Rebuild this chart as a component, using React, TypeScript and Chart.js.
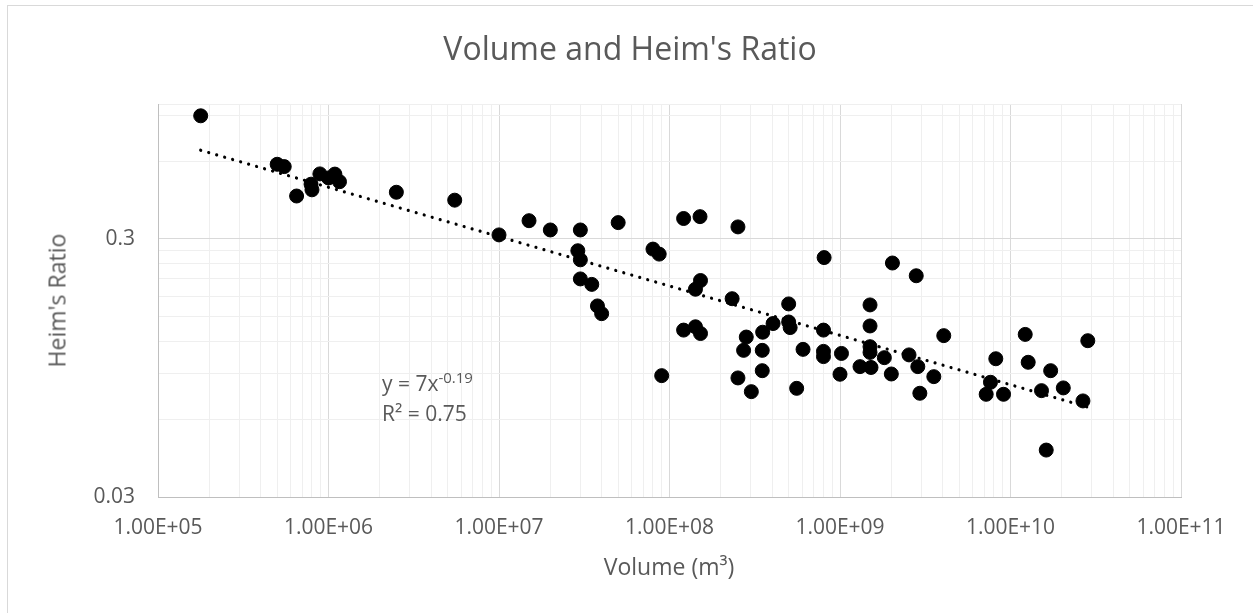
import { useEffect, useRef } from 'react';
import { Chart, registerables } from 'chart.js';

Chart.register(...registerables);

// ---- Data ----
const VOLUME_M3 = [
  1.78e5, 5.0e5, 5.5e5, 6.5e5, 7.9e5, 8.0e5, 8.9e5, 1.0e6, 1.09e6, 1.16e6,
  2.5e6, 5.5e6, 1.0e7, 1.5e7, 2.0e7, 3.0e7, 2.9e7, 3.0e7, 3.0e7, 3.5e7,
  3.78e7, 4.0e7, 5.0e7, 8.0e7, 8.7e7, 9.0e7, 1.21e8, 1.51e8, 2.52e8, 1.52e8,
  1.42e8, 1.21e8, 1.42e8, 1.52e8, 2.33e8, 2.82e8, 2.72e8, 2.52e8, 3.02e8, 3.52e8,
  3.5e8, 3.5e8, 4.05e8, 5.0e8, 5.0e8, 5.1e8, 6.07e8, 5.57e8, 8.07e8, 8.0e8,
  8.0e8, 8.0e8, 1.02e9, 1.0e9, 1.31e9, 1.52e9, 1.5e9, 1.5e9, 1.5e9, 1.5e9,
  1.82e9, 2.03e9, 2.0e9, 2.54e9, 2.8e9, 2.86e9, 2.94e9, 3.55e9, 4.06e9, 7.2e9,
  7.63e9, 8.2e9, 9.1e9, 1.22e10, 1.27e10, 1.52e10, 1.62e10, 1.72e10, 2.04e10, 2.66e10,
  2.84e10,
];
const HEIM_RATIO = [
  0.9, 0.584, 0.572, 0.44, 0.489, 0.465, 0.536, 0.517, 0.535, 0.5,
  0.455, 0.424, 0.311, 0.353, 0.325, 0.325, 0.27, 0.249, 0.21, 0.2,
  0.165, 0.154, 0.347, 0.274, 0.262, 0.0886, 0.36, 0.366, 0.334, 0.207,
  0.1915, 0.133, 0.137, 0.129, 0.176, 0.125, 0.111, 0.0868, 0.0768, 0.1305,
  0.111, 0.0926, 0.141, 0.168, 0.143, 0.136, 0.112, 0.0791, 0.254, 0.133,
  0.11, 0.105, 0.108, 0.0897, 0.096, 0.0953, 0.1665, 0.138, 0.1147, 0.109,
  0.104, 0.242, 0.0899, 0.1066, 0.216, 0.096, 0.0757, 0.0878, 0.1266, 0.075,
  0.0835, 0.103, 0.075, 0.128, 0.0998, 0.0775, 0.0456, 0.0926, 0.0794, 0.0707,
  0.121,
];

const X_MAJOR_TICKS = [1e5, 1e6, 1e7, 1e8, 1e9, 1e10, 1e11];
const X_TICK_LABELS = ['1.00E+05', '1.00E+06', '1.00E+07', '1.00E+08', '1.00E+09', '1.00E+10', '1.00E+11'];
const Y_MAJOR_TICKS = [0.03, 0.3];
const Y_TICK_LABELS = ['0.03', '0.3'];
const X_MIN = 1e5;
const X_MAX = 1e11;
const Y_MIN = 0.03;
const Y_MAX = 1;

const TITLE = "Volume and Heim's Ratio";
const X_TITLE = 'Volume (m³)';
const Y_TITLE = "Heim's Ratio";
const EQ_MAIN = 'y = 7x';
const EQ_EXP = '-0.19';
const R2_TEXT = 'R² = 0.75';

const FONT = '"Open Sans", "DejaVu Sans", sans-serif';
const TEXT_COLOR = '#595959';

function near(a: number, b: number) {
  return Math.abs(Math.log10(a) - Math.log10(b)) < 1e-6;
}

function gridValues(majors: number[], max: number) {
  const out: number[] = [];
  for (const m of majors) {
    for (let k = 1; k <= 9; k++) {
      const v = m * k;
      if (v <= max * (1 + 1e-9) && !out.some((o) => near(o, v))) out.push(v);
    }
  }
  if (!out.some((o) => near(o, max))) out.push(max);
  return out.sort((a, b) => a - b);
}

function labelFor(value: number, majors: number[], labels: string[]) {
  const i = majors.findIndex((m) => near(m, value));
  return i >= 0 ? labels[i] : '';
}

export default function App() {
  const ref = useRef<HTMLCanvasElement | null>(null);

  useEffect(() => {
    if (!ref.current) return;

    const points = VOLUME_M3.map((x, i) => ({ x, y: HEIM_RATIO[i] }));

    // Power-law least-squares fit in log-log space (as Excel's power trendline)
    const lx = VOLUME_M3.map((v) => Math.log10(v));
    const ly = HEIM_RATIO.map((v) => Math.log10(v));
    const n = lx.length;
    const mx = lx.reduce((s, v) => s + v, 0) / n;
    const my = ly.reduce((s, v) => s + v, 0) / n;
    let sxy = 0;
    let sxx = 0;
    for (let i = 0; i < n; i++) {
      sxy += (lx[i] - mx) * (ly[i] - my);
      sxx += (lx[i] - mx) * (lx[i] - mx);
    }
    const b = sxy / sxx;
    const a = my - b * mx;
    const xLo = Math.min(...VOLUME_M3);
    const xHi = Math.max(...VOLUME_M3);
    const trend = [xLo, xHi].map((x) => ({ x, y: Math.pow(10, a + b * Math.log10(x)) }));

    const xGrid = gridValues(X_MAJOR_TICKS, X_MAX);
    const yGrid = gridValues(Y_MAJOR_TICKS, Y_MAX);

    const chart = new Chart(ref.current, {
      type: 'scatter',
      data: {
        datasets: [
          {
            type: 'line',
            data: trend,
            borderColor: '#000000',
            borderWidth: 3.2,
            borderDash: [0.01, 8.3],
            borderCapStyle: 'round',
            pointRadius: 0,
            fill: false,
            order: 0,
          } as any,
          {
            type: 'scatter',
            data: points,
            pointRadius: 7,
            pointHoverRadius: 7,
            pointBackgroundColor: '#000000',
            pointBorderColor: '#000000',
            pointBorderWidth: 1,
            order: 1,
          } as any,
        ],
      },
      options: {
        animation: false,
        responsive: false,
        devicePixelRatio: 1,
        events: [],
        layout: { padding: { top: 104, right: 72, bottom: 0, left: 0 } },
        plugins: {
          legend: { display: false },
          tooltip: { enabled: false },
          title: { display: false },
        },
        scales: {
          x: {
            type: 'logarithmic',
            position: 'bottom',
            min: X_MIN,
            max: X_MAX,
            afterBuildTicks: (s: any) => {
              s.ticks = xGrid.map((v) => ({ value: v }));
            },
            afterFit: (s: any) => {
              s.height = 116;
              s.paddingLeft = 0;
              s.paddingRight = 0;
            },
            grid: {
              color: (ctx: any) =>
                ctx.tick && X_MAJOR_TICKS.some((m) => near(m, ctx.tick.value)) ? '#d9d9d9' : '#efefef',
              lineWidth: 1,
              drawTicks: false,
            },
            border: { color: '#bfbfbf', width: 1 },
            ticks: {
              autoSkip: false,
              maxRotation: 0,
              minRotation: 0,
              padding: 18,
              color: TEXT_COLOR,
              font: { family: FONT, size: 21 },
              callback: (value: any) => labelFor(Number(value), X_MAJOR_TICKS, X_TICK_LABELS),
            },
          },
          y: {
            type: 'logarithmic',
            position: 'left',
            min: Y_MIN,
            max: Y_MAX,
            afterBuildTicks: (s: any) => {
              s.ticks = yGrid.map((v) => ({ value: v }));
            },
            afterFit: (s: any) => {
              s.width = 158;
              s.paddingTop = 0;
              s.paddingBottom = 0;
            },
            grid: {
              color: (ctx: any) =>
                ctx.tick && Y_MAJOR_TICKS.some((m) => near(m, ctx.tick.value)) ? '#d9d9d9' : '#efefef',
              lineWidth: 1,
              drawTicks: false,
            },
            border: { color: '#bfbfbf', width: 1 },
            ticks: {
              autoSkip: false,
              padding: 23,
              color: TEXT_COLOR,
              font: { family: FONT, size: 21 },
              callback: (value: any) => labelFor(Number(value), Y_MAJOR_TICKS, Y_TICK_LABELS),
            },
          },
        },
      } as any,
    });

    return () => chart.destroy();
  }, []);

  const textBase: React.CSSProperties = {
    position: 'absolute',
    fontFamily: FONT,
    color: TEXT_COLOR,
    whiteSpace: 'nowrap',
  };

  return (
    <div
      style={{
        position: 'absolute',
        left: 0,
        top: 0,
        width: 1253,
        height: 613,
        overflow: 'hidden',
        background: '#ffffff',
      }}
    >
      <div
        style={{
          position: 'absolute',
          left: 7,
          top: 5,
          width: 1300,
          height: 700,
          border: '1px solid #d9d9d9',
          boxSizing: 'border-box',
        }}
      />
      <canvas ref={ref} width={1253} height={613} style={{ position: 'absolute', left: 0, top: 0 }} />
      <div
        style={{
          ...textBase,
          left: 330,
          width: 600,
          top: 31.6,
          fontSize: 32,
          lineHeight: '32px',
          textAlign: 'center',
        }}
      >
        {TITLE}
      </div>
      <div
        style={{
          ...textBase,
          left: 669 - 150,
          width: 300,
          top: 554.5,
          fontSize: 23,
          lineHeight: '23px',
          textAlign: 'center',
        }}
      >
        {X_TITLE}
      </div>
      <div
        style={{
          ...textBase,
          left: 57 - 100,
          width: 200,
          height: 23,
          top: 300.5 - 11.5,
          fontSize: 23,
          lineHeight: '23px',
          textAlign: 'center',
          transform: 'rotate(-90deg)',
          transformOrigin: '50% 50%',
        }}
      >
        {Y_TITLE}
      </div>
      <div style={{ ...textBase, left: 382, top: 373.3, fontSize: 21, lineHeight: '21px' }}>
        {EQ_MAIN}
        <span style={{ fontSize: 15, position: 'relative', top: -8 }}>{EQ_EXP}</span>
      </div>
      <div style={{ ...textBase, left: 382, top: 403.3, fontSize: 21, lineHeight: '21px' }}>{R2_TEXT}</div>
    </div>
  );
}
